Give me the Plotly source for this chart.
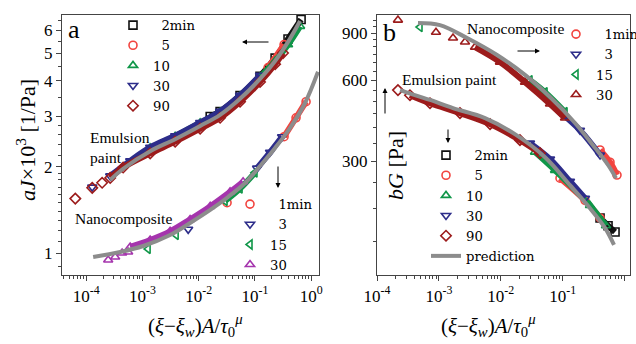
import plotly.graph_objects as go

W, H = 636, 344
FONT = "Liberation Serif"
LEGFONT = "DejaVu Serif"

BLACK = "#111111"
RED = "#f2443f"
GREEN = "#0f9648"
NAVY = "#2d2d8a"
DRED = "#9c1b1b"
PURPLE = "#a534ad"
GRAY = "#8c8c8c"

# ---------------- panel a : compliance aJ x 10^3 [1/Pa] ----------------
# emulsion paint (upper curve)
a_em_2min_x = [0.016, 0.024, 0.0543, 0.123, 0.228, 0.387, 0.66]
a_em_2min_y = [3.0, 3.12, 3.55, 4.15, 4.8, 5.6, 6.55]
a_em_5_x = [0.171, 0.329]
a_em_5_y = [4.45, 5.35]
a_em_10_x = [1.37e-3, 3.81e-3, 1.06e-2, 0.024, 0.0543, 0.123, 0.228, 0.387, 0.633]
a_em_10_y = [2.33, 2.56, 2.85, 3.11, 3.54, 4.12, 4.69, 5.35, 6.2]
a_em_30_x = [2.67e-4, 6.05e-4, 1.37e-3, 3.81e-3, 1.06e-2, 0.024, 0.0543, 0.123]
a_em_30_y = [1.86, 2.10, 2.34, 2.57, 2.86, 3.13, 3.56, 4.18]
a_em_30_tail_x = [1.28e-4]
a_em_30_tail_y = [1.70]
a_em_90_x = [2.67e-4, 4.54e-4, 1.37e-3, 3.81e-3, 1.06e-2, 0.024, 0.0543, 0.123, 0.228, 0.315]
a_em_90_y = [1.83, 1.99, 2.23, 2.45, 2.72, 2.97, 3.38, 3.96, 4.57, 5.0]
a_em_90_tail_x = [6.4e-5, 1.28e-4, 1.92e-4]
a_em_90_tail_y = [1.55, 1.69, 1.76]
a_em_pred_x = [2.67e-4, 4.54e-4, 1.37e-3, 3.81e-3, 1.06e-2, 0.024, 0.0543, 0.123, 0.228, 0.387, 0.633]
a_em_pred_y = [1.80, 1.97, 2.27, 2.50, 2.78, 3.04, 3.46, 4.06, 4.69, 5.47, 6.47]

# nanocomposite (lower curve)
a_nc_1_x = [0.329, 0.537, 0.809]
a_nc_1_y = [2.55, 2.97, 3.38]
a_nc_1_tail_x = [0.0319]
a_nc_1_tail_y = [1.50]
a_nc_3_x = [0.109, 0.185, 0.303]
a_nc_3_y = [1.98, 2.25, 2.55]
a_nc_3_tail_x = [6.5e-3]
a_nc_3_tail_y = [1.21]
a_nc_15_x = [0.0294, 0.0543, 0.1]
a_nc_15_y = [1.52, 1.68, 1.91]
a_nc_15_tail_x = [1.26e-3, 3.97e-3]
a_nc_15_tail_y = [1.033, 1.156]
a_nc_30_x = [6.05e-4, 1.37e-3, 3.1e-3, 7.03e-3, 0.016, 0.0361, 0.0615]
a_nc_30_y = [1.05, 1.11, 1.19, 1.31, 1.455, 1.635, 1.775]
a_nc_30_tail_x = [2.46e-4, 3.27e-4, 4.35e-4, 5.57e-4]
a_nc_30_tail_y = [0.945, 0.968, 1.0, 1.008]
a_nc_pred_x = [1.33e-4, 4.02e-4, 1.03e-3, 3.10e-3, 7.03e-3, 0.016, 0.0333, 0.0667, 0.123,
               0.228, 0.42, 0.776, 1.32]
a_nc_pred_y = [0.968, 1.008, 1.058, 1.156, 1.273, 1.414, 1.57, 1.757, 2.015,
               2.33, 2.735, 3.345, 4.30]

# ---------------- panel b : modulus bG [Pa] ----------------
# nanocomposite (upper curve)
b_nc_1_x = [0.401, 0.581, 0.753]
b_nc_1_y = [330, 297, 266]
b_nc_3_x = [0.0904, 0.190, 0.401]
b_nc_3_y = [457, 391, 316]
b_nc_15_x = [0.0296, 0.0518, 0.109]
b_nc_15_y = [601, 542, 457]
b_nc_15_tail_x = [4.95e-4]
b_nc_15_tail_y = [948]
b_nc_30_x = [3.83e-3, 9.7e-3, 0.0246, 0.0624, 0.109]
b_nc_30_y = [798, 702, 591, 490, 434]
b_nc_30_tail_x = [2.18e-4, 8.97e-4, 1.69e-3, 2.64e-3]
b_nc_30_tail_y = [1007, 907, 863, 834]
b_nc_pred_x = [4.59e-4, 1.04e-3, 2.85e-3, 8.69e-3, 0.0246, 0.0624, 0.158, 0.333, 0.540, 0.726]
b_nc_pred_y = [982, 964, 863, 746, 629, 520, 416, 336, 290, 259]

# emulsion paint (lower curve)
b_em_2min_x = [0.401, 0.540, 0.700]
b_em_2min_y = [184, 172, 163]
b_em_5_x = [0.0904, 0.229, 0.401]
b_em_5_y = [259, 214, 184]
b_em_10_x = [0.0357, 0.0752, 0.276, 0.501]
b_em_10_y = [324, 277, 205, 172]
b_em_30_x = [0.0296, 0.0624, 0.131, 0.229]
b_em_30_y = [350, 305, 252, 218]
b_em_90_x = [3.41e-4, 7.18e-4, 2.19e-3, 6.7e-3, 0.0204, 0.043]
b_em_90_y = [528, 493, 453, 412, 359, 321]
b_em_90_tail_x = [2.18e-4]
b_em_90_tail_y = [552]
b_em_pred_x = [2.36e-4, 4.59e-4, 7.18e-4, 1.69e-3, 5.56e-3, 0.0169, 0.0518, 0.131, 0.276, 0.482, 0.674]
b_em_pred_y = [552, 524, 507, 473, 434, 378, 310, 244, 200, 169, 146]

# tick labels
x_tickvals = [1e-4, 1e-3, 1e-2, 1e-1, 1]
x_ticktext = ["10<sup>-4</sup>", "10<sup>-3</sup>", "10<sup>-2</sup>", "10<sup>-1</sup>", "10<sup>0</sup>"]
a_y_tickvals = [1, 2, 3, 4, 5, 6]
b_y_tickvals = [300, 600, 900]

fig = go.Figure()


def band(x, y, color, xa, ya):
    fig.add_trace(go.Scatter(x=x, y=y, mode="lines", xaxis=xa, yaxis=ya,
                             line=dict(color=color, width=6, shape="spline"),
                             showlegend=False, hoverinfo="skip"))


def marks(x, y, color, symbol, xa, ya, name=None, legend=None):
    fig.add_trace(go.Scatter(x=x, y=y, mode="markers", xaxis=xa, yaxis=ya,
                             marker=dict(symbol=symbol, size=8, color=color,
                                         line=dict(color=color, width=1.6)),
                             name=name if name else "", showlegend=name is not None,
                             legend=legend if legend else "legend", hoverinfo="skip"))


def series(x, y, color, symbol, xa, ya, name, legend, tx=None, ty=None):
    band(x, y, color, xa, ya)
    marks(x, y, color, symbol, xa, ya, name, legend)
    if tx:
        marks(tx, ty, color, symbol, xa, ya)


FS = "\u2007"
# panel a, emulsion
series(a_em_2min_x, a_em_2min_y, BLACK, "square-open", "x", "y", FS + "2min", "legend")
series(a_em_5_x, a_em_5_y, RED, "circle-open", "x", "y", FS + "5", "legend")
series(a_em_10_x, a_em_10_y, GREEN, "triangle-up-open", "x", "y", "10", "legend")
series(a_em_30_x, a_em_30_y, NAVY, "triangle-down-open", "x", "y", "30", "legend",
       a_em_30_tail_x, a_em_30_tail_y)
series(a_em_90_x, a_em_90_y, DRED, "diamond-open", "x", "y", "90", "legend",
       a_em_90_tail_x, a_em_90_tail_y)
# panel a, nanocomposite
series(a_nc_1_x, a_nc_1_y, RED, "circle-open", "x", "y", FS + "1min", "legend2",
       a_nc_1_tail_x, a_nc_1_tail_y)
series(a_nc_3_x, a_nc_3_y, NAVY, "triangle-down-open", "x", "y", FS + "3", "legend2",
       a_nc_3_tail_x, a_nc_3_tail_y)
series(a_nc_15_x, a_nc_15_y, GREEN, "triangle-left-open", "x", "y", "15", "legend2",
       a_nc_15_tail_x, a_nc_15_tail_y)
series(a_nc_30_x, a_nc_30_y, PURPLE, "triangle-up-open", "x", "y", "30", "legend2",
       a_nc_30_tail_x, a_nc_30_tail_y)
# panel b, nanocomposite
series(b_nc_1_x, b_nc_1_y, RED, "circle-open", "x2", "y2", FS + "1min", "legend3")
series(b_nc_3_x, b_nc_3_y, NAVY, "triangle-down-open", "x2", "y2", FS + "3", "legend3")
series(b_nc_15_x, b_nc_15_y, GREEN, "triangle-left-open", "x2", "y2", "15", "legend3",
       b_nc_15_tail_x, b_nc_15_tail_y)
series(b_nc_30_x, b_nc_30_y, DRED, "triangle-up-open", "x2", "y2", "30", "legend3",
       b_nc_30_tail_x, b_nc_30_tail_y)
# panel b, emulsion
series(b_em_2min_x, b_em_2min_y, BLACK, "square-open", "x2", "y2", FS + "2min", "legend4")
series(b_em_5_x, b_em_5_y, RED, "circle-open", "x2", "y2", FS + "5", "legend4")
series(b_em_10_x, b_em_10_y, GREEN, "triangle-up-open", "x2", "y2", "10", "legend4")
series(b_em_30_x, b_em_30_y, NAVY, "triangle-down-open", "x2", "y2", "30", "legend4")
series(b_em_90_x, b_em_90_y, DRED, "diamond-open", "x2", "y2", "90", "legend4",
       b_em_90_tail_x, b_em_90_tail_y)

# predictions (gray, on top)
for px_, py_, xa, ya, show in [(a_em_pred_x, a_em_pred_y, "x", "y", False),
                               (a_nc_pred_x, a_nc_pred_y, "x", "y", False),
                               (b_nc_pred_x, b_nc_pred_y, "x2", "y2", False),
                               (b_em_pred_x, b_em_pred_y, "x2", "y2", True)]:
    fig.add_trace(go.Scatter(x=px_, y=py_, mode="lines", xaxis=xa, yaxis=ya,
                             line=dict(color=GRAY, width=4, shape="spline"),
                             name="prediction", showlegend=show, legend="legend4",
                             hoverinfo="skip"))


def P(x, y):
    return x / W, (H - y) / H


axis_common = dict(showline=True, linecolor="#444", linewidth=1.2, mirror=True,
                   ticks="outside", ticklen=5, tickwidth=1, tickcolor="#444",
                   showgrid=False, zeroline=False, automargin=False,
                   tickfont=dict(family=FONT, size=17, color="black"))

x_minor = [m * 10.0 ** e for e in range(-5, 1) for m in range(2, 10)]

y0, y1 = (H - 275) / H, (H - 15) / H
fig.update_layout(
    width=W, height=H, margin=dict(l=0, r=0, t=0, b=0, autoexpand=False),
    paper_bgcolor="white", plot_bgcolor="white",
    font=dict(family=FONT, size=15, color="black"),
    xaxis=dict(type="log", domain=[62 / W, 319 / W], range=[-4.43, 0.138], anchor="y",
               tickvals=x_tickvals, ticktext=x_ticktext,
               minor=dict(tickvals=x_minor, ticks="outside", ticklen=3, tickcolor="#444"),
               **axis_common),
    yaxis=dict(type="log", domain=[y0, y1], range=[-0.0769, 0.832], anchor="x",
               tickvals=a_y_tickvals, ticktext=[str(v) for v in a_y_tickvals],
               minor=dict(tickvals=[0.9, 1.1, 1.2, 1.3, 1.4, 1.5, 1.6, 1.7, 1.8, 1.9,
                                    2.2, 2.4, 2.6, 2.8, 3.5, 4.5, 5.5, 6.5],
                          ticks="outside", ticklen=3, tickcolor="#444"),
               **axis_common),
    xaxis2=dict(type="log", domain=[377 / W, 630 / W], range=[-4.0, 0.087], anchor="y2",
                tickvals=x_tickvals, ticktext=x_ticktext,
                minor=dict(tickvals=x_minor, ticks="outside", ticklen=3, tickcolor="#444"),
                **axis_common),
    yaxis2=dict(type="log", domain=[y0, y1], range=[2.052, 3.022], anchor="x2",
                tickvals=b_y_tickvals, ticktext=[str(v) for v in b_y_tickvals],
                minor=dict(tickvals=[150, 200, 250, 350, 400, 450, 500, 550, 650, 700, 750,
                                     800, 850, 950, 1000],
                           ticks="outside", ticklen=3, tickcolor="#444"),
                **axis_common),
)

leg_common = dict(bgcolor="rgba(0,0,0,0)", borderwidth=0,
                  font=dict(family=LEGFONT, size=13.2, color="black"),
                  itemwidth=30, tracegroupgap=0, traceorder="normal",
                  xanchor="left", yanchor="top")
lx, ly = P(135 - 22, 25 - 15)
fig.update_layout(legend=dict(x=lx, y=ly, **leg_common))
lx, ly = P(252 - 22, 204 - 15)
fig.update_layout(legend2=dict(x=lx, y=ly, **leg_common))
lx, ly = P(578 - 22, 34 - 15)
fig.update_layout(legend3=dict(x=lx, y=ly, **leg_common))
lx, ly = P(448 - 22, 155 - 15)
fig.update_layout(legend4=dict(x=lx, y=ly, **leg_common))


def text(x, y, s, size=15, xanchor="center", yanchor="middle", angle=0, align="left"):
    ax_, ay_ = P(x, y)
    fig.add_annotation(x=ax_, y=ay_, xref="paper", yref="paper", text=s, showarrow=False,
                       xanchor=xanchor, yanchor=yanchor, textangle=angle, align=align,
                       font=dict(family=FONT, size=size, color="black"))


def arrow(hx, hy, dx, dy):
    ax_, ay_ = P(hx, hy)
    fig.add_annotation(x=ax_, y=ay_, xref="paper", yref="paper", text="", showarrow=True,
                       ax=dx, ay=dy, arrowhead=2, arrowsize=1, arrowwidth=1, arrowcolor="black")


text(74, 29, "a", size=26)
text(389, 32, "b", size=26)
text(88, 147, "Emulsion<br>paint", xanchor="left", size=15.5)
text(73, 218, "Nanocomposite", xanchor="left", size=15.5)
text(465, 28, "Nanocomposite", xanchor="left", size=15.5)
text(400, 80, "Emulsion paint", xanchor="left", size=15.5)
text(26, 140, "<i>aJ</i>×10<sup>3</sup> [1/Pa]", size=22, angle=-90)
text(395, 166, "<i>bG</i> [Pa]", size=22, angle=-90)
xt = "(<i>ξ</i>−<i>ξ</i><sub><i>w</i></sub>)<i>A</i>/<i>τ</i><sub>0</sub><sup><i>μ</i></sup>"
text(195, 325, xt, size=21)
text(488, 325, xt, size=21)

arrow(242, 42, 28, 0)
arrow(278, 188, 0, -23)
arrow(540, 51, -24, 0)
arrow(385, 88, 0, 27)
arrow(448, 143, 0, -15)

fig.write_html("out.html", config={"displayModeBar": False},
               post_script="document.body.style.margin='0';")
